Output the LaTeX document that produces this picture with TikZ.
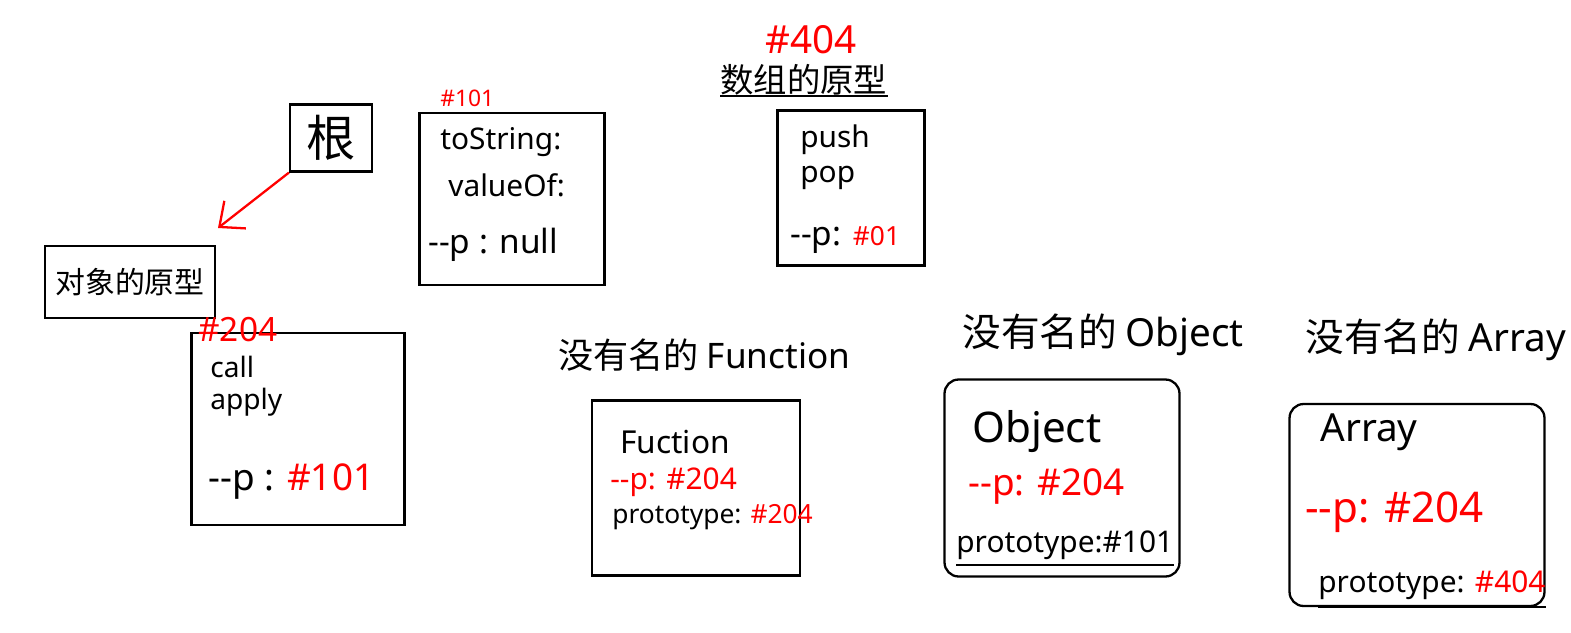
\documentclass[tikz,border=0pt]{standalone}
\usepackage{fontspec}
\setmainfont{Noto Sans}
\newfontfamily\cjk{Noto Sans CJK SC}
\usetikzlibrary{arrows.meta}

\newcommand{\sz}[1]{\fontsize{#1}{#1}\selectfont}

\begin{document}
\begin{tikzpicture}[x=0.02cm, y=-0.02cm]
        \useasboundingbox (0,0) rectangle (1571,632);
        % boxes
        \begin{scope}[every node/.style={draw, line width=1.3pt, inner sep=0pt}]
                \node[minimum width=1.64cm, minimum height=1.34cm] (root) at (331,138) {\cjk\sz{28}根};
                \node[minimum width=3.4cm, minimum height=1.45cm] (objproto) at (130,282) {\cjk\sz{17}对象的原型};
                \node[minimum width=3.7cm, minimum height=3.44cm] (box101) at (512,199) {};
                \node[minimum width=2.94cm, minimum height=3.1cm] (box404) at (851,188) {};
                \node[minimum width=4.26cm, minimum height=3.84cm] (box204) at (298,429) {};
                \node[minimum width=4.16cm, minimum height=3.5cm] (funcbox) at (696,488) {};
                \node[rounded corners=8pt, minimum width=4.7cm, minimum height=3.94cm] (objbox) at (1062,478) {};
                \node[rounded corners=8pt, minimum width=5.1cm, minimum height=4.04cm] (arrbox) at (1417,505) {};
        \end{scope}
        \coordinate (tip) at (218,228);
        \path[draw=red, line width=1.3pt, -{Straight Barb[length=4mm, width=7mm]}] (root.south west) -- (tip);
        % texts
        \begin{scope}[every node/.style={anchor=west, inner sep=0pt}, tag/.style={text=red}]
                \node[tag, font=\sz{13}] (t101) at (440,98) {\#101};
                \node[font=\sz{17}] (s101a) at (440,142) {toString:};
                \node[font=\sz{17}] (s101b) at (448,185) {valueOf:};
                \node[font=\sz{19}] (s101c) at (428,245) {-{}-p : null};

                \node[tag, font=\sz{22}] (t404) at (765,40) {\#404};
                \node[font=\sz{19}] (arrproto) at (720,80) {\cjk 数组的原型};
                \node[font=\sz{17}] (s404a) at (800,140) {push};
                \node[font=\sz{17}] (s404b) at (800,178) {pop};
                \node[font=\sz{19}] (s404c) at (790,240) {-{}-p: \textcolor{red}{\sz{15}\#01}};

                \node[tag, font=\sz{19}] (t204) at (198,330) {\#204};
                \node[font=\sz{16}] (s204a) at (210,367) {call};
                \node[font=\sz{16}] (s204b) at (210,402) {apply};
                \node[font=\sz{21}] (s204c) at (208,482) {-{}-p : \textcolor{red}{\#101}};

                \node[font=\sz{20}] (functitle) at (558,355) {\cjk 没有名的 \rmfamily Function};
                \node[font=\sz{18}] (sfa) at (620,442) {Fuction};
                \node[tag, font=\sz{17}] (sfb) at (610,482) {-{}-p: \#204};
                \node[font=\sz{15}] (sfc) at (612,517) {prototype: \textcolor{red}{\#204}};

                \node[font=\sz{22}] (objtitle) at (962,335) {\cjk 没有名的 \rmfamily Object};
                \node[font=\sz{24}] (soa) at (972,432) {Object};
                \node[tag, font=\sz{21}] (sob) at (968,487) {-{}-p: \#204};
                \node[font=\sz{17}] (soc) at (956,545) {prototype:\#101};

                \node[font=\sz{22}] (arrtitle) at (1305,340) {\cjk 没有名的 \rmfamily Array};
                \node[font=\sz{22}] (saa) at (1320,432) {Array};
                \node[tag, font=\sz{24}] (sab) at (1305,512) {-{}-p: \#204};
                \node[font=\sz{17}] (sac) at (1318,585) {prototype: \textcolor{red}{\#404}};
        \end{scope}
        % underlines
        \begin{scope}[every path/.style={draw, line width=1.2pt}]
                \path (arrproto.south west) -- (arrproto.south east);
                \path ([yshift=-3pt]soc.south west) -- ([yshift=-3pt]soc.south east);
                \path ([yshift=-4pt]sac.south west) -- ([yshift=-4pt]sac.south east);
        \end{scope}
\end{tikzpicture}
\end{document}
